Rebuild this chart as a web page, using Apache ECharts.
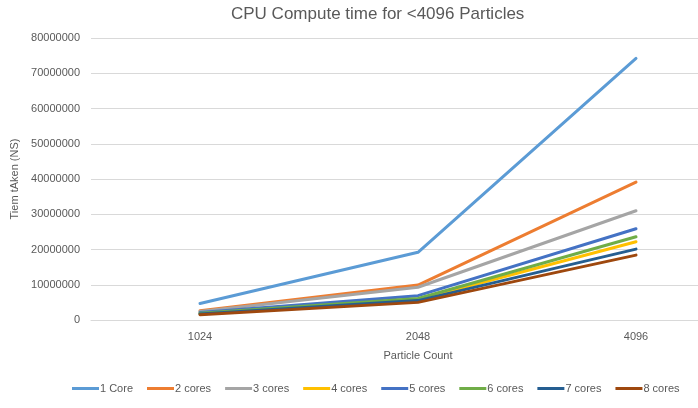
<!DOCTYPE html>
<html>
<head>
<meta charset="utf-8">
<script src="https://cdn.jsdelivr.net/npm/echarts@6/dist/echarts.min.js"></script>
<style>
    html, body { margin: 0; padding: 0; background: #fff; }
    #chart { width: 698px; height: 408px; }
</style>
</head>
<body>
<div id="chart"></div>
<script>
    // particle counts on the x axis
    var categories = ['1024', '2048', '4096'];
    var seriesNames = ['1 Core', '2 cores', '3 cores', '4 cores', '5 cores', '6 cores', '7 cores', '8 cores'];
    // time taken (ns)
    var core1 = [4700000, 19200000, 74200000];
    var core2 = [2600000, 9900000, 39100000];
    var core3 = [2400000, 9300000, 31000000];
    var core4 = [1800000, 5800000, 22200000];
    var core5 = [2100000, 6900000, 25900000];
    var core6 = [1900000, 6100000, 23600000];
    var core7 = [1700000, 5500000, 20100000];
    var core8 = [1500000, 5000000, 18400000];
    var allValues = [core1, core2, core3, core4, core5, core6, core7, core8];
    var colors = ['#5B9BD5', '#ED7D31', '#A5A5A5', '#FFC000', '#4472C4', '#70AD47', '#255E91', '#9E480E'];

    var font = 'Liberation Sans';

    function formatData() { // series 数据
        var seriesData = [];
        for (var i = 0; i < seriesNames.length; i++) {
            seriesData.push({
                name: seriesNames[i],
                type: 'line',
                data: allValues[i],
                symbol: 'none',
                lineStyle: { width: 3, color: colors[i], cap: 'round', join: 'round' },
                itemStyle: { color: colors[i] }
            });
        }
        return seriesData;
    }

    var option = {
        backgroundColor: '#fff',
        animation: false,
        title: {
            text: 'CPU Compute time for <4096 Particles',
            left: 226,
            top: 1,
            textStyle: { fontFamily: font, fontSize: 17, fontWeight: 'normal', color: '#595959' }
        },
        legend: {
            top: 383,
            left: 72,
            padding: 0,
            icon: 'rect',
            itemWidth: 27,
            itemHeight: 3,
            itemGap: 14,
            textStyle: { fontFamily: font, fontSize: 11, color: '#595959', width: 37, padding: [0, 0, 0, -4] },
            data: seriesNames
        },
        grid: {
            left: 91,
            right: -47,
            top: 38,
            bottom: 88,
            containLabel: false,
            outerBoundsMode: 'none'
        },
        xAxis: {
            type: 'category',
            data: categories,
            name: 'Particle Count',
            nameLocation: 'middle',
            nameGap: 30,
            nameTextStyle: { fontFamily: font, fontSize: 11, color: '#595959' },
            axisLine: { lineStyle: { color: '#D9D9D9', width: 1 } },
            axisTick: { show: false },
            axisLabel: { fontFamily: font, fontSize: 11, color: '#595959', margin: 11 }
        },
        yAxis: {
            type: 'value',
            min: 0,
            max: 80000000,
            interval: 10000000,
            name: 'Tiem tAken (NS)',
            nameLocation: 'middle',
            nameGap: 64,
            nameTextStyle: { fontFamily: font, fontSize: 11, color: '#595959' },
            axisLine: { show: false },
            axisTick: { show: false },
            axisLabel: {
                fontFamily: font, fontSize: 11, color: '#595959', margin: 11,
                formatter: function (v) { return String(v); }
            },
            splitLine: { lineStyle: { color: '#D9D9D9', width: 1 } }
        },
        series: formatData()
    };

    echarts.init(document.getElementById('chart')).setOption(option);
</script>
</body>
</html>
